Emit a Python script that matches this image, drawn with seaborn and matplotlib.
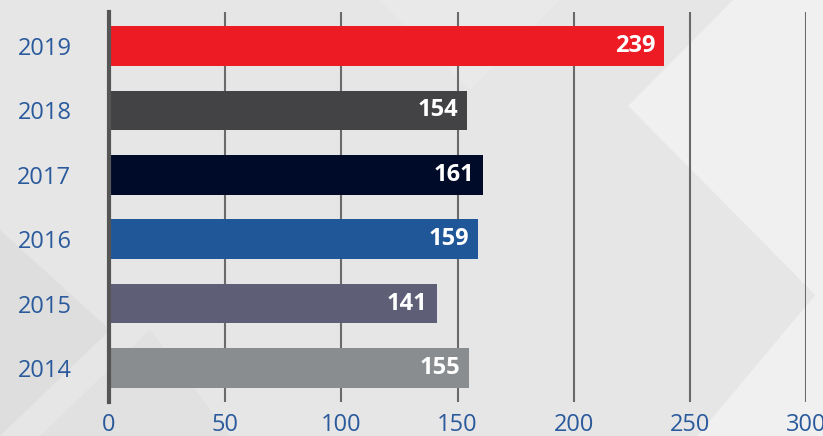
import matplotlib
matplotlib.use("Agg")
import matplotlib.pyplot as plt
import seaborn as sns
import pandas as pd
from matplotlib.patches import Polygon

years = ["2019", "2018", "2017", "2016", "2015", "2014"]
values = [239, 154, 161, 159, 141, 155]
bar_colors = ["#ed1c24", "#434345", "#000b29", "#1f5799", "#5e5f77", "#8a8d90"]
ticks = [0, 50, 100, 150, 200, 250, 300]

df = pd.DataFrame({"year": years, "value": values})

sns.set_theme(style="white")
plt.rcParams["font.family"] = ["Open Sans", "DejaVu Sans"]

fig = plt.figure(figsize=(8.23, 4.36), dpi=100)
fig.patch.set_facecolor("#e6e6e6")

# background shapes (figure coords, y from bottom)
W, H = 823.0, 436.0
def poly(pts, color):
    p = Polygon([(x / W, 1 - y / H) for x, y in pts], closed=True,
                transform=fig.transFigure, facecolor=color, edgecolor="none", zorder=-10)
    fig.patches.append(p)

poly([(733, 0), (823, 0), (823, 436), (697, 436), (815, 295), (628, 106)], "#f0f0f0")
poly([(628, 106), (815, 295), (697, 436), (470, 436), (640, 260), (575, 200)], "#e6e6e6")
poly([(0, 230), (110, 330), (0, 436)], "#dedede")
poly([(40, 436), (150, 330), (230, 436)], "#e1e1e1")
poly([(380, 0), (560, 0), (470, 90)], "#e9e9e9")

ax = fig.add_axes([109 / W, 34 / H, (806 - 109) / W, 390 / H])
ax.set_facecolor("none")

sns.barplot(data=df, x="value", y="year", hue="year", palette=bar_colors,
            order=years, hue_order=years, orient="h", width=0.62,
            legend=False, ax=ax, saturation=1, linewidth=0, zorder=3)

ax.set_xlim(0, 300)
ax.set_ylim(5.53, -0.53)
ax.set_xticks(ticks)
ax.set_xlabel("")
ax.set_ylabel("")
ax.grid(axis="x", color="#6a6a6a", linewidth=1.5, zorder=0)
ax.grid(axis="y", visible=False)
for s in ["top", "right", "bottom"]:
    ax.spines[s].set_visible(False)
ax.spines["left"].set_color("#555555")
ax.spines["left"].set_linewidth(3)
ax.spines["left"].set_zorder(4)

ax.tick_params(axis="both", length=0, labelsize=17, labelcolor="#2a5a9c")
ax.tick_params(axis="y", pad=27)
ax.tick_params(axis="x", pad=8)

for i, v in enumerate(values):
    ax.text(v - 3.8, i, str(v), color="white", fontsize=17, fontweight="bold",
            ha="right", va="center", zorder=5)

fig.savefig("out.png", dpi=100, facecolor=fig.get_facecolor())
